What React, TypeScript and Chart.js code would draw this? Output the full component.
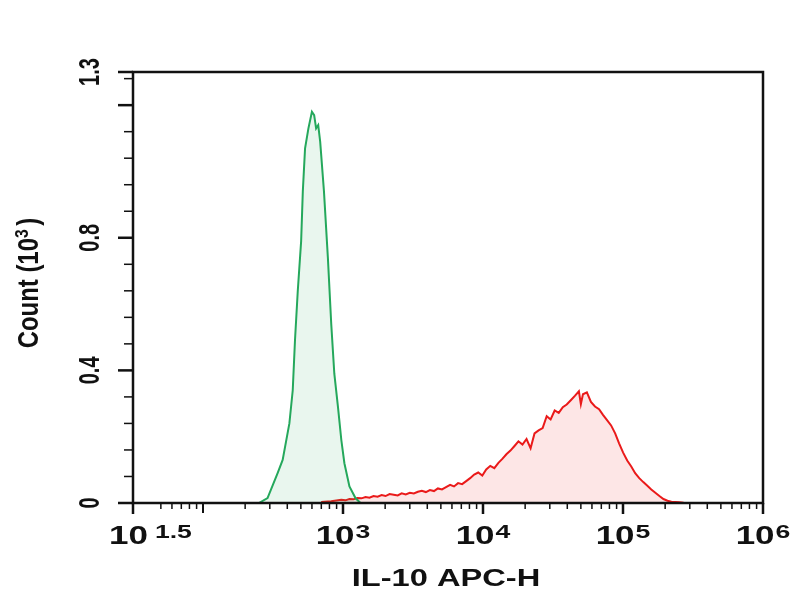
import { useEffect, useRef } from 'react';
import Chart from 'chart.js/auto';

// fluorescence intensity read as decades (log10 of IL-10 APC-H), counts in 10^3
const controlDecades = [
  2.399, 2.461, 2.533, 2.569, 2.617, 2.641, 2.657, 2.677, 2.701, 2.713, 2.729, 2.753, 2.778, 2.794,
  2.808, 2.823, 2.837, 2.864, 2.892, 2.916, 2.938, 2.964, 2.988, 3.01, 3.046, 3.089, 3.125,
];
const controlCounts = [
  0, 0.015, 0.09, 0.13, 0.24, 0.34, 0.49, 0.64, 0.79, 0.94, 1.07, 1.13, 1.18, 1.17, 1.13, 1.14, 1.09,
  0.94, 0.74, 0.54, 0.39, 0.29, 0.19, 0.12, 0.05, 0.015, 0,
];

const stainedDecades = [
  2.844, 2.916, 2.988, 3.017, 3.046, 3.074, 3.103, 3.132, 3.161, 3.189, 3.218, 3.247, 3.276, 3.304,
  3.333, 3.362, 3.391, 3.419, 3.448, 3.477, 3.506, 3.535, 3.563, 3.592, 3.621, 3.65, 3.678, 3.707,
  3.736, 3.765, 3.793, 3.822, 3.851, 3.88, 3.908, 3.937, 3.966, 3.995, 4.023, 4.052, 4.081, 4.11,
  4.138, 4.167, 4.196, 4.225, 4.253, 4.282, 4.311, 4.34, 4.368, 4.397, 4.426, 4.455, 4.483, 4.512,
  4.541, 4.57, 4.598, 4.627, 4.656, 4.685, 4.699, 4.714, 4.742, 4.771, 4.8, 4.829, 4.857, 4.886,
  4.915, 4.944, 4.972, 5.001, 5.03, 5.059, 5.087, 5.116, 5.145, 5.174, 5.202, 5.231, 5.26, 5.289,
  5.318, 5.346, 5.375, 5.404, 5.433, 5.49,
];
const stainedCounts = [
  0.003, 0.005, 0.01, 0.008, 0.012, 0.011, 0.015, 0.014, 0.018, 0.016, 0.021, 0.019, 0.024, 0.021,
  0.027, 0.025, 0.023, 0.029, 0.026, 0.031, 0.029, 0.034, 0.037, 0.033, 0.039, 0.036, 0.044, 0.041,
  0.048, 0.055, 0.05, 0.06, 0.057, 0.066, 0.075, 0.086, 0.092, 0.083, 0.101, 0.112, 0.105, 0.121,
  0.133, 0.147, 0.158, 0.172, 0.186, 0.176, 0.193, 0.165, 0.21, 0.219, 0.226, 0.262, 0.252, 0.279,
  0.272, 0.289, 0.297, 0.31, 0.323, 0.337, 0.298, 0.328, 0.334, 0.305, 0.291, 0.283, 0.266, 0.25,
  0.234, 0.21, 0.18, 0.152, 0.128, 0.11, 0.09, 0.075, 0.063, 0.052, 0.041, 0.031, 0.021, 0.012,
  0.007, 0.004, 0.003, 0.002, 0.001, 0,
];

const xMajorDecades = [1.5, 3, 4, 5, 6];
const xMajorSup = ['1.5', '3', '4', '5', '6'];
const yTickValues = [0, 0.4, 0.8, 1.3];
const yTickLabels = ['0', '0.4', '0.8', '1.3'];
const yUnlabelledMajor = [1.2];
const yMinorTicks = [0.08, 0.16, 0.24, 0.32, 0.48, 0.56, 0.64, 0.72, 0.88, 0.96, 1.04, 1.12, 1.28];

const FONT = '"Liberation Sans", Arial, sans-serif';
const INK = '#111';

const axesPlugin = {
  id: 'flowAxes',
  afterDraw(chart: any) {
    const { ctx, chartArea: a } = chart;
    const xs = chart.scales.x;
    const ys = chart.scales.y;
    ctx.save();
    ctx.strokeStyle = INK;
    ctx.fillStyle = INK;

    // frame
    ctx.lineWidth = 2.5;
    ctx.strokeRect(a.left, a.top, a.right - a.left, a.bottom - a.top);

    const yTick = (v: number, len: number, w: number) => {
      const py = ys.getPixelForValue(v);
      ctx.fillRect(a.left - len, py - w / 2, len, w);
    };
    const xTick = (v: number, len: number, w: number) => {
      const px = xs.getPixelForValue(v);
      ctx.fillRect(px - w / 2, a.bottom, w, len);
    };

    yTickValues.forEach((v) => yTick(v, 15, 2.5));
    yUnlabelledMajor.forEach((v) => yTick(v, 15, 2.5));
    yMinorTicks.forEach((v) => yTick(v, 9, 1.5));

    xMajorDecades.forEach((d) => xTick(Math.pow(10, d), 11, 2.5));
    xTick(100, 10, 2);
    for (let n = 1; n <= 5; n++) {
      for (let k = 2; k <= 9; k++) {
        const v = k * Math.pow(10, n);
        if (v > 40 && v < 1e6) xTick(v, 6, 1.5);
      }
    }

    // x tick labels: 10 with superscript exponent
    const sx = 1.4;
    const baseFont = `bold 25px ${FONT}`;
    const supFont = `bold 19px ${FONT}`;
    xMajorDecades.forEach((d, i) => {
      const px = xs.getPixelForValue(Math.pow(10, d));
      ctx.font = baseFont;
      const wBase = ctx.measureText('10').width * sx;
      ctx.font = supFont;
      const wSup = ctx.measureText(xMajorSup[i]).width * sx;
      const gap = i === 0 ? 7 : 1;
      const start = i === 0 ? px - 24 : px - (wBase + gap + wSup) / 2;
      ctx.save();
      ctx.translate(start, 544);
      ctx.scale(sx, 1);
      ctx.font = baseFont;
      ctx.textAlign = 'left';
      ctx.fillText('10', 0, 0);
      ctx.restore();
      ctx.save();
      ctx.translate(start + wBase + gap, 538);
      ctx.scale(sx, 1);
      ctx.font = supFont;
      ctx.textAlign = 'left';
      ctx.fillText(xMajorSup[i], 0, 0);
      ctx.restore();
    });

    // x title
    ctx.save();
    ctx.translate(446, 586);
    ctx.scale(1.36, 1);
    ctx.font = `bold 24px ${FONT}`;
    ctx.textAlign = 'center';
    ctx.fillText('IL-10 APC-H', 0, 0);
    ctx.restore();

    // y tick labels, rotated
    yTickValues.forEach((v, i) => {
      const py = ys.getPixelForValue(v);
      ctx.save();
      ctx.translate(99, py);
      ctx.rotate(-Math.PI / 2);
      ctx.scale(1, 1.5);
      ctx.font = `bold 20px ${FONT}`;
      ctx.textAlign = 'center';
      ctx.fillText(yTickLabels[i], 0, 0);
      ctx.restore();
    });

    // y title: Count (10^3)
    ctx.save();
    ctx.translate(38, 283);
    ctx.rotate(-Math.PI / 2);
    ctx.scale(0.92, 1.1);
    const mainFont = `bold 26px ${FONT}`;
    const smallFont = `bold 17px ${FONT}`;
    ctx.font = mainFont;
    const w1 = ctx.measureText('Count (10').width;
    const w3 = ctx.measureText(')').width;
    ctx.font = smallFont;
    const w2 = ctx.measureText('3').width;
    const total = w1 + w2 + 4 + w3;
    let cx = -total / 2;
    ctx.textAlign = 'left';
    ctx.font = mainFont;
    ctx.fillText('Count (10', cx, 0);
    cx += w1;
    ctx.font = smallFont;
    ctx.fillText('3', cx, -9);
    cx += w2 + 4;
    ctx.font = mainFont;
    ctx.fillText(')', cx, 0);
    ctx.restore();

    ctx.restore();
  },
};

export default function App() {
  const canvasRef = useRef<HTMLCanvasElement>(null);

  useEffect(() => {
    if (!canvasRef.current) return;
    const chart = new Chart(canvasRef.current, {
      type: 'line',
      data: {
        datasets: [
          {
            label: 'Isotype',
            data: controlDecades.map((d, i) => ({ x: Math.pow(10, d), y: controlCounts[i] })),
            borderColor: '#25a85c',
            backgroundColor: 'rgba(37, 168, 92, 0.1)',
            borderWidth: 2,
            fill: 'origin',
            pointRadius: 0,
            tension: 0,
          },
          {
            label: 'IL-10',
            data: stainedDecades.map((d, i) => ({ x: Math.pow(10, d), y: stainedCounts[i] })),
            borderColor: '#ea1a1a',
            backgroundColor: 'rgba(238, 28, 28, 0.11)',
            borderWidth: 2,
            fill: 'origin',
            pointRadius: 0,
            tension: 0,
          },
        ],
      },
      options: {
        animation: false,
        responsive: false,
        events: [],
        layout: { padding: { left: 133, right: 41, top: 72, bottom: 97 } },
        plugins: { legend: { display: false }, tooltip: { enabled: false } },
        scales: {
          x: { type: 'logarithmic', min: Math.pow(10, 1.5), max: 1e6, display: false },
          y: { type: 'linear', min: 0, max: 1.3, display: false },
        },
      },
      plugins: [axesPlugin],
    });
    return () => chart.destroy();
  }, []);

  return (
    <div style={{ position: 'absolute', left: 0, top: 0, width: 804, height: 600, background: '#fff' }}>
      <canvas ref={canvasRef} width={804} height={600} style={{ width: 804, height: 600 }} />
    </div>
  );
}
